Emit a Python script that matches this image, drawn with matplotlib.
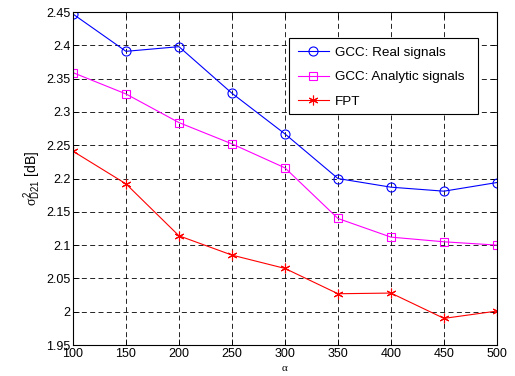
import matplotlib
matplotlib.use("Agg")
import matplotlib.pyplot as plt
from matplotlib.patches import Rectangle

alpha = [100, 150, 200, 250, 300, 350, 400, 450, 500]
gcc_real = [2.447, 2.391, 2.398, 2.328, 2.267, 2.200, 2.187, 2.181, 2.194]
gcc_analytic = [2.359, 2.327, 2.284, 2.252, 2.216, 2.140, 2.112, 2.105, 2.100]
fpt = [2.241, 2.192, 2.114, 2.085, 2.065, 2.027, 2.028, 1.990, 2.001]
xticks = [100, 150, 200, 250, 300, 350, 400, 450, 500]
yticks = [1.95, 2.0, 2.05, 2.1, 2.15, 2.2, 2.25, 2.3, 2.35, 2.4, 2.45]
ytick_labels = ["1.95", "2", "2.05", "2.1", "2.15", "2.2", "2.25", "2.3", "2.35", "2.4", "2.45"]

plt.rcParams['font.family'] = ['Liberation Sans', 'DejaVu Sans']
plt.rcParams['mathtext.fontset'] = 'custom'
plt.rcParams['mathtext.rm'] = 'Liberation Sans'
plt.rcParams['mathtext.it'] = 'Liberation Serif'

fig = plt.figure(figsize=(5.15, 3.76), dpi=100)
ax = fig.add_axes([0.1417, 0.0824, 0.8233, 0.8856])

ax.plot(alpha, gcc_real, color='#0000ff', marker='o', markersize=6.5, markerfacecolor='none',
        markeredgewidth=0.8, linewidth=0.8, label='GCC: Real signals')
ax.plot(alpha, gcc_analytic, color='#ff00ff', marker='s', markersize=6, markerfacecolor='none',
        markeredgewidth=0.8, linewidth=0.8, label='GCC: Analytic signals')
ax.plot(alpha, fpt, color='#ff0000', marker=(6, 2, 0), markersize=7, markeredgewidth=0.8,
        linewidth=0.8, label='FPT')

ax.set_xlim(100, 500)
ax.set_ylim(1.95, 2.45)
ax.set_xticks(xticks)
ax.set_yticks(yticks)
ax.set_yticklabels(ytick_labels)
ax.tick_params(direction='in', length=4, width=0.6, labelsize=9, pad=2, top=True, right=True)
ax.grid(True, color='black', linestyle=(0, (6, 4)), linewidth=0.6)
for s in ax.spines.values():
    s.set_linewidth(0.8)

ax.set_xlabel('α', fontsize=8, labelpad=3, family=['Liberation Serif', 'DejaVu Serif'])
ax.set_ylabel(r'$\sigma^2_{\mathrm{D21}}$ [dB]', fontsize=10, labelpad=2)

# legend box (MATLAB style, extra right padding)
box = Rectangle((0.509, 0.694), 0.446, 0.228, transform=ax.transAxes, facecolor='white',
                edgecolor='black', linewidth=0.8, zorder=4.9)
ax.add_patch(box)
leg = ax.legend(loc='upper left', bbox_to_anchor=(0.509, 0.922), fontsize=9.7, frameon=False,
                borderpad=0.65, borderaxespad=0.0, handlelength=2.35, handletextpad=0.4,
                labelspacing=0.88)
leg.set_zorder(5)

fig.savefig('out.png', dpi=100)
